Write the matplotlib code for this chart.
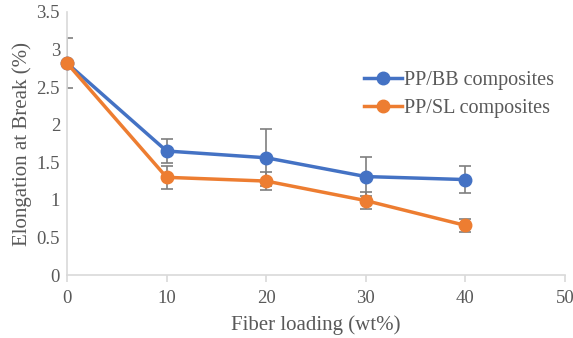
import matplotlib
matplotlib.use("Agg")
import matplotlib.pyplot as plt
from matplotlib.lines import Line2D

fiber = [0, 10, 20, 30, 40]
bb = [2.82, 1.65, 1.56, 1.31, 1.27]
bb_err = [0.33, 0.16, 0.38, 0.26, 0.18]
sl = [2.82, 1.30, 1.25, 0.99, 0.66]
sl_err = [0.0, 0.15, 0.12, 0.11, 0.09]
x_ticks = [0, 10, 20, 30, 40, 50]
y_ticks = [0, 0.5, 1, 1.5, 2, 2.5, 3, 3.5]
y_labels = ["0", "0.5", "1", "1.5", "2", "2.5", "3", "3.5"]

plt.rcParams['font.family'] = ['Liberation Serif', 'DejaVu Serif']
fig = plt.figure(figsize=(5.73, 3.38), dpi=100)
ax = fig.add_axes([67/573, 63/338, (565-67)/573, (275-12)/338])

blue = '#4472C4'
orange = '#ED7D31'
ecol = '#7F7F7F'

for y, e, c in [(bb, bb_err, blue), (sl, sl_err, orange)]:
    ax.errorbar(fiber, y, yerr=e, fmt='none', ecolor=ecol, elinewidth=1.2,
                capsize=4, capthick=1.2, zorder=2)
for y, c, z in [(bb, blue, 3), (sl, orange, 4)]:
    ax.plot(fiber, y, color=c, lw=2.5, marker='o', ms=9, zorder=z, clip_on=False)

ax.set_xlim(0, 50)
ax.set_ylim(0, 3.5)
ax.set_xticks(x_ticks)
ax.set_yticks(y_ticks)
ax.set_yticklabels(y_labels)
for s in ['top', 'right']:
    ax.spines[s].set_visible(False)
for s in ['left', 'bottom']:
    ax.spines[s].set_color('#D9D9D9')
    ax.spines[s].set_linewidth(1.2)
ax.tick_params(axis='x', colors='#D9D9D9', labelcolor='#595959', labelsize=13.5, length=5, width=1.2, direction='out', pad=6)
ax.tick_params(axis='y', length=0, labelcolor='#595959', labelsize=13.5, pad=5)
ax.set_xlabel('Fiber loading (wt%)', fontsize=15, color='#595959', labelpad=6)
ax.set_ylabel('Elongation at Break (%)', fontsize=15, color='#595959', labelpad=3)

handles = [Line2D([], [], color=blue, lw=2.5, marker='o', ms=9),
           Line2D([], [], color=orange, lw=2.5, marker='o', ms=9)]
leg = ax.legend(handles, ['PP/BB composites', 'PP/SL composites'], loc='upper left',
                bbox_to_anchor=(0.58, 0.805), frameon=False, fontsize=14.5,
                handlelength=1.9, labelspacing=0.4, handletextpad=0.1, borderaxespad=0)
for t in leg.get_texts():
    t.set_color('#595959')

fig.savefig('out.png', dpi=100)
